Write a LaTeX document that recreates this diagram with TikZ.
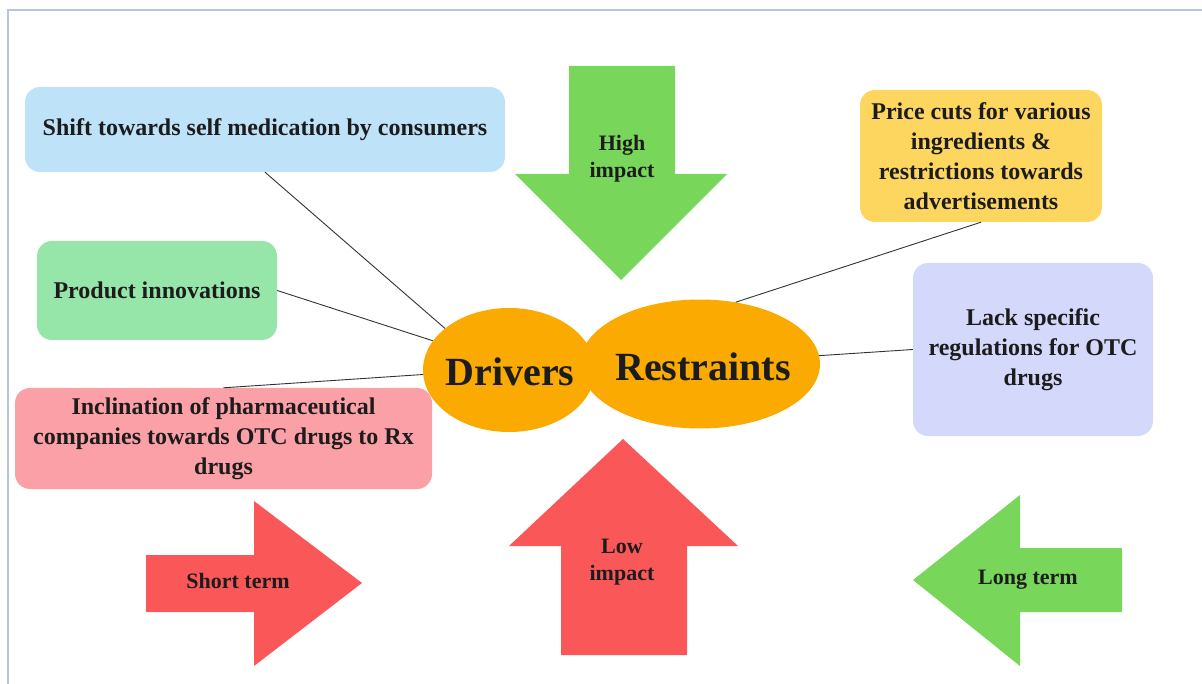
\documentclass[tikz,border=0pt]{standalone}
\usepackage{fontspec}
\setmainfont{Liberation Serif}
\usetikzlibrary{shapes.geometric,positioning}

\definecolor{frameline}{HTML}{B8C4DE}
\definecolor{shiftblue}{HTML}{BEE2F8}
\definecolor{innogreen}{HTML}{96E6AA}
\definecolor{inclpink}{HTML}{FCA0A8}
\definecolor{priceyellow}{HTML}{FDD660}
\definecolor{lacklilac}{HTML}{D4D8FA}
\definecolor{arrowgreen}{HTML}{78D75A}
\definecolor{arrowred}{HTML}{FA5858}
\definecolor{bloborange}{HTML}{FAAA00}
\definecolor{inktext}{HTML}{1C1C1C}

\begin{document}
\begin{tikzpicture}[x=1pt, y=-1pt,
    box/.style={rounded corners=15pt, inner sep=0pt, align=center, text=inktext,
        font=\bfseries\fontsize{24}{30}\selectfont},
    blob/.style={ellipse, fill=bloborange, inner sep=0pt, text=inktext,
        font=\bfseries\fontsize{40}{44}\selectfont},
    tag/.style={align=center, text=inktext, font=\bfseries\fontsize{22}{27}\selectfont},
    link/.style={draw=black!80, line width=0.9pt}]
                        \useasboundingbox (0, 0) rectangle (1202, 684);
                        \draw[frameline, line width=1.5pt] (8, 684) -- (8, 10) -- (1202, 10);

                        % impact and term arrows
                        \fill[arrowgreen] (569, 66) -- (675, 66) -- (675, 174) -- (727, 174) -- (621, 280) -- (515, 174) -- (569, 174) -- cycle;
                        \fill[arrowred] (623, 439) -- (738, 546) -- (687, 546) -- (687, 655) -- (561, 655) -- (561, 546) -- (509, 546) -- cycle;
                        \fill[arrowred] (146, 555) -- (254, 555) -- (254, 501) -- (362, 583) -- (254, 666) -- (254, 612) -- (146, 612) -- cycle;
                        \fill[arrowgreen] (913, 580) -- (1020, 495) -- (1020, 548) -- (1122, 548) -- (1122, 612) -- (1020, 612) -- (1020, 666) -- cycle;
                        \node[tag] (high) at (622, 159) {High\\impact};
                        \node[tag] (low) at (622, 562) {Low\\impact};
                        \node[tag] (short) at (238, 581) {Short term};
                        \node[tag] (long) at (1028, 580) {Long term};

                        \node[blob, minimum width=240pt, minimum height=129pt] (restraints) at (700, 364) {};
                        \node[blob, minimum width=172pt, minimum height=124pt] (drivers) at (509, 370) {};
                        \node[blob, fill=none] at (510, 372) {Drivers};
                        \node[blob, fill=none] at (703, 367) {Restraints};

                        \node[box, fill=shiftblue, minimum width=480pt, minimum height=85pt] (shift) at (265, 129.5) {Shift towards self medication by consumers};
                        \node[box, fill=innogreen, minimum width=240pt, minimum height=99pt] (inno) at (157, 290.5) {Product innovations};
                        \node[box, fill=inclpink, minimum width=417pt, minimum height=101pt] (incl) at (223.5, 438.5) {Inclination of pharmaceutical\\companies towards OTC drugs to Rx\\drugs};
                        \node[box, fill=priceyellow, minimum width=242pt, minimum height=132pt] (price) at (981, 156) {Price cuts for various\\ingredients \&\\restrictions towards\\advertisements};
                        \node[box, fill=lacklilac, minimum width=240pt, minimum height=173pt] (lack) at (1033, 349.5) {Lack specific\\regulations for OTC\\drugs};

                        \draw
                        (shift.south) edge[link] (drivers.147)
                        (inno.east) edge[link] (drivers.159)
                        (incl.north) edge[link] (drivers.183)
                        (price.south) edge[link] (restraints.60)
                        (lack.west) edge[link] (restraints.4);
                    \end{tikzpicture}
\end{document}
